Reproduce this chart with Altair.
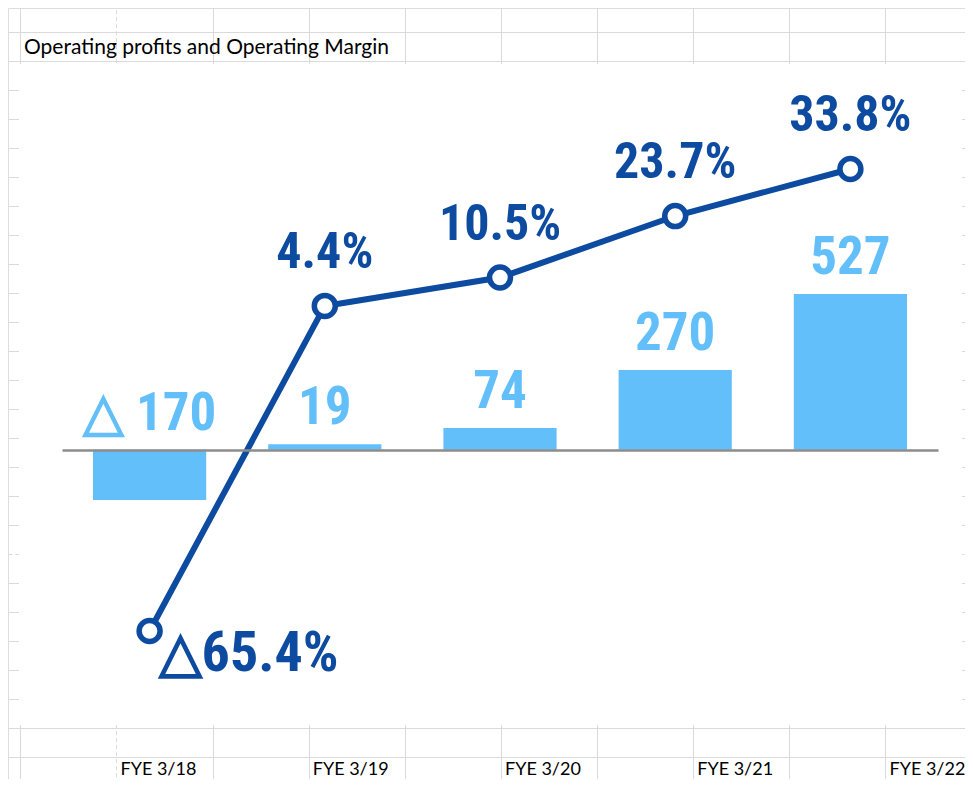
import altair as alt
import pandas as pd

categories = ["FYE 3/18", "FYE 3/19", "FYE 3/20", "FYE 3/21", "FYE 3/22"]
profits = [-170, 19, 74, 270, 527]
profit_labels = ["△ 170", "19", "74", "270", "527"]
margins = [-65.4, 4.4, 10.5, 23.7, 33.8]
margin_labels = ["△65.4%", "4.4%", "10.5%", "23.7%", "33.8%"]
title_text = "Operating profits and Operating Margin"

# spreadsheet background (column / row indices of the sheet grid)
sheet_cols = list(range(10))
sheet_rows = list(range(1, 27))

df = pd.DataFrame({
    "category": categories,
    "profit": profits,
    "profit_label": profit_labels,
    "margin": margins,
    "margin_label": margin_labels,
})

W, H = 957, 771
BAR = "#62BFFA"
LINE = "#0D4BA0"
GRID = "#dadada"
NUM_FONT = "Roboto Condensed, Liberation Sans Narrow, Roboto, sans-serif"
CELL_FONT = "Lato, Open Sans, sans-serif"

band_scale = alt.Scale(type="band", domain=categories, range=[54, 930],
                       paddingInner=0.354, paddingOuter=0.177)
profit_scale = alt.Scale(domain=[-170, 527], range=[492, 286], nice=False, zero=False)
margin_scale = alt.Scale(domain=[-65.4, 33.8], range=[623, 161], nice=False, zero=False)

x_base = alt.X("category:N", sort=categories, scale=band_scale,
               axis=alt.Axis(orient="bottom", offset=-329, labels=False, ticks=False,
                             title=None, grid=False, domain=True, zindex=2,
                             domainColor="#8c8c8c", domainWidth=2.5))
x_plain = alt.X("category:N", sort=categories, scale=band_scale, axis=None)

# sheet grid drawn with the axes' own grid lines
sheet = alt.Chart(pd.DataFrame({"c": [0], "r": [1]})).mark_point(opacity=0).encode(
    x=alt.X("c:Q", scale=alt.Scale(domain=[-0.1302, 9.8385], range=[0, W], nice=False, zero=False),
            axis=alt.Axis(orient="top", values=sheet_cols, grid=True, gridColor=GRID,
                          gridWidth=1,
                          gridDash=alt.condition("datum.value == 1", alt.value([4, 3]), alt.value([])),
                          labels=False, ticks=False, domain=False, title=None)),
    y=alt.Y("r:Q", scale=alt.Scale(domain=[0, 27], range=[-5.3, 777.7], nice=False, zero=False),
            axis=alt.Axis(orient="left", values=sheet_rows, grid=True, gridColor=GRID,
                          gridWidth=1,
                          gridDash=alt.condition("datum.value == 19", alt.value([4, 3]), alt.value([])),
                          labels=False, ticks=False, domain=False, title=None)),
)

# white chart object sitting on the sheet
chart_area = alt.Chart(pd.DataFrame({"c": [0]})).mark_rect(color="white").encode(
    x=alt.value(11), x2=alt.value(954), y=alt.value(56), y2=alt.value(717),
)

base = alt.Chart(df)

bars = base.mark_bar(color=BAR).encode(
    x=x_base,
    y=alt.Y("profit:Q", scale=profit_scale, axis=None),
)

bar_labels = base.transform_calculate(
    ypos="max(datum.profit, 0)"
).mark_text(font=NUM_FONT, fontSize=53, fontWeight="bold", color=BAR,
            baseline="alphabetic", dy=-20).encode(
    x=x_plain,
    y=alt.Y("ypos:Q", scale=profit_scale, axis=None),
    text="profit_label:N",
)

line = base.mark_line(color=LINE, strokeWidth=6).encode(
    x=x_plain,
    y=alt.Y("margin:Q", scale=margin_scale, axis=None),
)

points = base.mark_point(shape="circle", filled=True, fill="white", stroke=LINE,
                         strokeWidth=5.5, size=440, opacity=1).encode(
    x=x_plain,
    y=alt.Y("margin:Q", scale=margin_scale, axis=None),
)

pos_labels = base.transform_filter("datum.margin >= 0").mark_text(
    font=NUM_FONT, fontSize=50, fontWeight="bold", color=LINE,
    baseline="alphabetic", dy=-38).encode(
    x=x_plain,
    y=alt.Y("margin:Q", scale=margin_scale, axis=None),
    text="margin_label:N",
)

neg_labels = base.transform_filter("datum.margin < 0").mark_text(
    font=NUM_FONT, fontSize=56, fontWeight="bold", color=LINE,
    baseline="alphabetic", align="left", dx=9, dy=40).encode(
    x=x_plain,
    y=alt.Y("margin:Q", scale=margin_scale, axis=None),
    text="margin_label:N",
)

cell_labels = base.mark_point(opacity=0).encode(
    x=alt.X("category:N", sort=categories,
            scale=alt.Scale(type="point", domain=categories, range=[112, 881], padding=0),
            axis=alt.Axis(orient="bottom", offset=-30, labels=True, ticks=False,
                          tickSize=0, domain=False, grid=False, title=None,
                          labelAlign="left", labelBaseline="middle", labelPadding=20,
                          labelFont=CELL_FONT, labelFontSize=18, labelColor="#000000",
                          labelAngle=0, zindex=2)),
)

chart = alt.layer(
    sheet, chart_area, bars, bar_labels, line, points, pos_labels, neg_labels, cell_labels
).resolve_scale(
    x="independent", y="independent"
).resolve_axis(
    x="independent", y="independent"
).properties(
    width=W, height=H,
    autosize=alt.AutoSizeParams(type="none"),
    padding=0,
    title=alt.TitleParams(title_text, anchor="start", frame="group", orient="top",
                          offset=-71, dx=16, baseline="bottom",
                          font=CELL_FONT, fontSize=21, fontWeight="normal",
                          color="#000000"),
).configure_view(strokeOpacity=0, strokeWidth=0).configure(background="white")

chart.save("out.html", embed_options={"renderer": "svg", "actions": False})
